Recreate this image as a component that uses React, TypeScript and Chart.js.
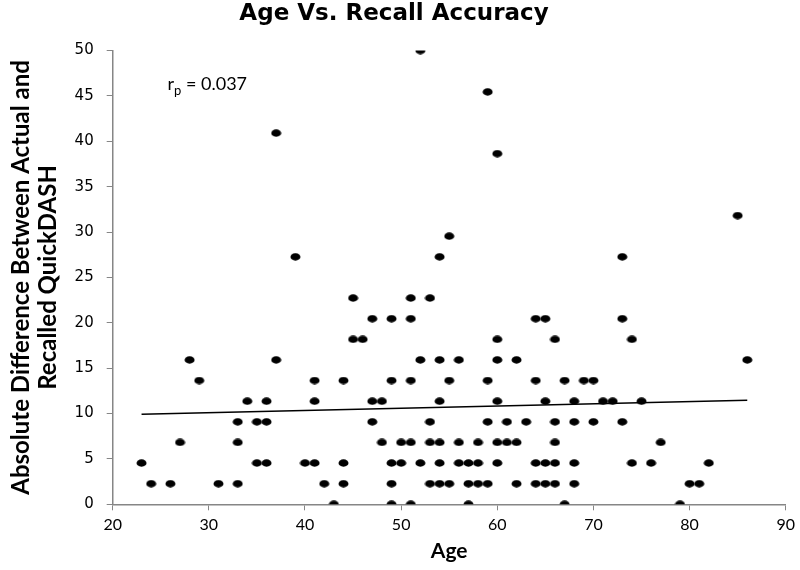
import React, { useEffect, useRef } from "react";
import { Chart, registerables } from "chart.js";

Chart.register(...registerables);

const CHART_TITLE = "Age Vs. Recall Accuracy";
const X_TITLE = "Age";
const Y_TITLE = ["Absolute Difference Between Actual and", "Recalled QuickDASH"];
const X_RANGE = [20, 90];
const Y_RANGE = [0, 50];
const X_STEP = 10;
const Y_STEP = 5;

// scatter points (age, absolute difference)
const ages = [
  43, 49, 51, 57, 67, 79,
  24, 26, 31, 33, 42, 44, 49, 53, 54, 55, 57, 58, 59, 62, 64, 65, 66, 68, 80, 81,
  23, 35, 36, 40, 41, 44, 49, 50, 52, 54, 56, 57, 58, 60, 64, 65, 66, 68, 74, 76, 82,
  27, 33, 48, 50, 51, 53, 54, 56, 58, 60, 61, 62, 66, 77,
  33, 35, 36, 47, 53, 59, 61, 63, 66, 68, 70, 73,
  34, 36, 41, 47, 48, 54, 60, 65, 68, 71, 72, 75,
  29, 41, 44, 49, 51, 55, 59, 64, 67, 69, 70,
  28, 37, 52, 54, 56, 60, 62, 86,
  45, 46, 60, 66, 74,
  47, 49, 51, 64, 65, 73,
  45, 51, 53,
  39, 54, 73,
  55,
  85,
  60,
  37,
  59,
  52,
];
const diffs = [
  0, 0, 0, 0, 0, 0,
  2.27, 2.27, 2.27, 2.27, 2.27, 2.27, 2.27, 2.27, 2.27, 2.27, 2.27, 2.27, 2.27, 2.27, 2.27, 2.27, 2.27, 2.27, 2.27, 2.27,
  4.55, 4.55, 4.55, 4.55, 4.55, 4.55, 4.55, 4.55, 4.55, 4.55, 4.55, 4.55, 4.55, 4.55, 4.55, 4.55, 4.55, 4.55, 4.55, 4.55, 4.55,
  6.82, 6.82, 6.82, 6.82, 6.82, 6.82, 6.82, 6.82, 6.82, 6.82, 6.82, 6.82, 6.82, 6.82,
  9.09, 9.09, 9.09, 9.09, 9.09, 9.09, 9.09, 9.09, 9.09, 9.09, 9.09, 9.09,
  11.36, 11.36, 11.36, 11.36, 11.36, 11.36, 11.36, 11.36, 11.36, 11.36, 11.36, 11.36,
  13.64, 13.64, 13.64, 13.64, 13.64, 13.64, 13.64, 13.64, 13.64, 13.64, 13.64,
  15.91, 15.91, 15.91, 15.91, 15.91, 15.91, 15.91, 15.91,
  18.18, 18.18, 18.18, 18.18, 18.18,
  20.45, 20.45, 20.45, 20.45, 20.45, 20.45,
  22.73, 22.73, 22.73,
  27.27, 27.27, 27.27,
  29.55,
  31.82,
  38.64,
  40.91,
  45.45,
  50,
];

// linear trend line end points
const trendAges = [23, 86];
const trendDiffs = [9.93, 11.48];

// correlation annotation
const R_MAIN = "r";
const R_SUB = "p";
const R_REST = " = 0.037";
const R_AT = [25.7, 45.7];

function makeDot(): HTMLCanvasElement {
  const c = document.createElement("canvas");
  c.width = 11;
  c.height = 8;
  const g = c.getContext("2d")!;
  g.fillStyle = "#000";
  g.beginPath();
  g.ellipse(5.5, 4, 5.0, 3.7, 0, 0, Math.PI * 2);
  g.fill();
  return c;
}

const rpPlugin = {
  id: "rpLabel",
  afterDatasetsDraw(chart: any) {
    const { ctx, scales } = chart;
    const px = scales.x.getPixelForValue(R_AT[0]);
    const py = scales.y.getPixelForValue(R_AT[1]);
    ctx.save();
    ctx.fillStyle = "#000";
    ctx.textBaseline = "alphabetic";
    ctx.textAlign = "left";
    ctx.font = "18px Lato";
    ctx.fillText(R_MAIN, px, py);
    const w1 = ctx.measureText(R_MAIN).width;
    ctx.font = "13px Lato";
    ctx.fillText(R_SUB, px + w1, py + 5);
    const w2 = ctx.measureText(R_SUB).width;
    ctx.font = "18px Lato";
    ctx.fillText(R_REST, px + w1 + w2, py);
    ctx.restore();
  },
};

export default function App() {
  const ref = useRef<HTMLCanvasElement>(null);

  useEffect(() => {
    if (!ref.current) return;
    const dot = makeDot();
    const axisColor = "#868686";
    const chart = new Chart(ref.current, {
      type: "scatter",
      data: {
        datasets: [
          {
            type: "scatter",
            data: ages.map((a, i) => ({ x: a, y: diffs[i] })),
            pointStyle: dot as any,
            pointRadius: 5,
            backgroundColor: "#000",
            borderColor: "#000",
          },
          {
            type: "line",
            data: trendAges.map((a, i) => ({ x: a, y: trendDiffs[i] })),
            borderColor: "#000",
            borderWidth: 1.5,
            pointRadius: 0,
            fill: false,
          } as any,
        ],
      },
      options: {
        animation: false,
        responsive: true,
        maintainAspectRatio: false,
        layout: { padding: { left: 0, right: 12, top: 0, bottom: 0 } },
        plugins: {
          legend: { display: false },
          tooltip: { enabled: false },
          title: {
            display: true,
            text: CHART_TITLE,
            color: "#000",
            font: { family: "DejaVu Sans", size: 23, weight: "bold" },
            padding: { top: 0, bottom: 23 },
          },
        },
        scales: {
          x: {
            type: "linear",
            min: X_RANGE[0],
            max: X_RANGE[1],
            ticks: {
              stepSize: X_STEP,
              color: "#000",
              font: { family: "Lato", size: 16 },
              padding: 5,
            },
            grid: {
              display: true,
              drawOnChartArea: false,
              drawTicks: true,
              tickLength: 6,
              color: axisColor,
            },
            border: { color: axisColor, width: 1.5 },
            title: {
              display: true,
              text: X_TITLE,
              color: "#000",
              font: { family: "Lato", size: 21, weight: "bold" },
              padding: { top: 0, bottom: 6 },
            },
            afterFit: (s: any) => {
              s.height = 65.7;
            },
          },
          y: {
            type: "linear",
            min: Y_RANGE[0],
            max: Y_RANGE[1],
            ticks: {
              stepSize: Y_STEP,
              color: "#000",
              font: { family: "DejaVu Sans", size: 15 },
              padding: 13,
            },
            grid: {
              display: true,
              drawOnChartArea: false,
              drawTicks: true,
              tickLength: 6,
              color: axisColor,
            },
            border: { color: axisColor, width: 1.5 },
            title: {
              display: true,
              text: Y_TITLE,
              color: "#000",
              font: { family: "Lato", size: 24, weight: "bold", lineHeight: 1.15 },
              padding: { top: 7, bottom: 0 },
            },
            afterFit: (s: any) => {
              s.width = 112.7;
            },
          },
        },
      },
      plugins: [rpPlugin],
    });
    return () => chart.destroy();
  }, []);

  return (
    <div style={{ position: "fixed", left: 0, top: 0, width: 800, height: 570, background: "#fff" }}>
      <canvas ref={ref} />
    </div>
  );
}
